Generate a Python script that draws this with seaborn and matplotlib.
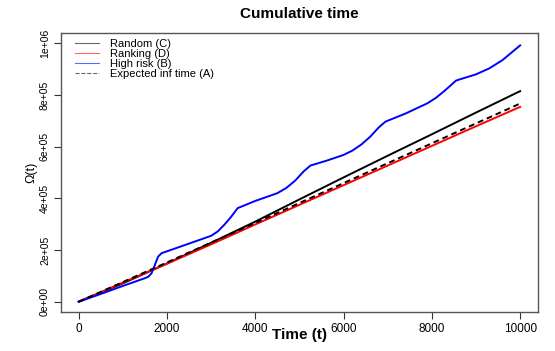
import numpy as np
import pandas as pd
import matplotlib
matplotlib.use("Agg")
import matplotlib.pyplot as plt
import seaborn as sns
from matplotlib.lines import Line2D

# values
t_common = [0, 1000, 2000, 3000, 4000, 5000, 6000, 7000, 8000, 9000, 10000]
random_c = [0, 71000, 148000, 228000, 310000, 396000, 481000, 565000, 648000, 732000, 815000]
ranking_d = [0, 74000, 147000, 222000, 299000, 375000, 451000, 527000, 603000, 679000, 754000]
expected_a = [0, 76000, 152000, 229000, 305000, 382000, 459000, 536000, 613000, 690000, 767000]

t_high = [0, 500, 1000, 1500, 1580, 1650, 1720, 1800, 1880, 2200, 2600, 3000, 3150, 3300,
          3450, 3600, 4000, 4500, 4700, 4900, 5100, 5250, 5600, 6000, 6200, 6400, 6600,
          6800, 6950, 7400, 7900, 8100, 8300, 8550, 9000, 9300, 9600, 10000]
high_b = [0, 30000, 61000, 91000, 97000, 110000, 140000, 175000, 188000, 207000, 231000,
          255000, 272000, 298000, 328000, 362000, 390000, 420000, 440000, 468000, 505000,
          527000, 545000, 568000, 585000, 608000, 638000, 675000, 697000, 728000, 768000,
          790000, 818000, 856000, 880000, 903000, 935000, 992000]

labels = ["Random (C)", "Ranking (D)", "High risk (B)", "Expected inf time (A)"]
colors = ["black", "#ff0000", "#0000ff", "black"]

plt.rcParams['font.family'] = ['Liberation Sans', 'DejaVu Sans']

fig = plt.figure(figsize=(5.55, 3.51), dpi=100)
ax = fig.add_axes([0.110, 0.111, 0.859, 0.795])

df_c = pd.DataFrame({"t": t_common, "v": random_c})
df_d = pd.DataFrame({"t": t_common, "v": ranking_d})
df_b = pd.DataFrame({"t": t_high, "v": high_b})
df_a = pd.DataFrame({"t": t_common, "v": expected_a})

sns.lineplot(data=df_c, x="t", y="v", color=colors[0], lw=1.4, ax=ax)
sns.lineplot(data=df_d, x="t", y="v", color=colors[1], lw=1.4, ax=ax)
sns.lineplot(data=df_b, x="t", y="v", color=colors[2], lw=1.4, ax=ax)
sns.lineplot(data=df_a, x="t", y="v", color=colors[3], lw=1.4, ax=ax, dashes=False,
             linestyle=(0, (3, 2)))

ax.set_xlim(-400, 10400)
ax.set_ylim(-40000, 1040000)
ax.set_xticks([0, 2000, 4000, 6000, 8000, 10000])
ax.set_xticklabels(["0", "2000", "4000", "6000", "8000", "10000"], fontsize=8.5)
yt = [0, 200000, 400000, 600000, 800000, 1000000]
ax.set_yticks(yt)
ax.set_yticklabels(["0e+00", "2e+05", "4e+05", "6e+05", "8e+05", "1e+06"], fontsize=7.5,
                   rotation=90, va="center")
ax.tick_params(direction="out", length=5, width=0.8, color="#333333", pad=3)
for s in ax.spines.values():
    s.set_color("#555555")
    s.set_linewidth(1.0)

ax.set_title("Cumulative time", fontsize=11, fontweight="bold", pad=11)
ax.set_xlabel("Time (t)", fontsize=11, fontweight="bold", labelpad=-5)
ax.set_ylabel("Ω(t)", fontsize=9, labelpad=2)

handles = [Line2D([], [], color=c, lw=0.8, alpha=0.6,
                  linestyle="--" if i == 3 else "-") for i, c in enumerate(colors)]
ax.legend(handles, labels, loc="upper left", frameon=False, fontsize=8.0,
          handlelength=2.2, handletextpad=1.0, labelspacing=0.0,
          borderaxespad=0.4, bbox_to_anchor=(0.01, 1.01))

fig.savefig("out.png", dpi=100)
